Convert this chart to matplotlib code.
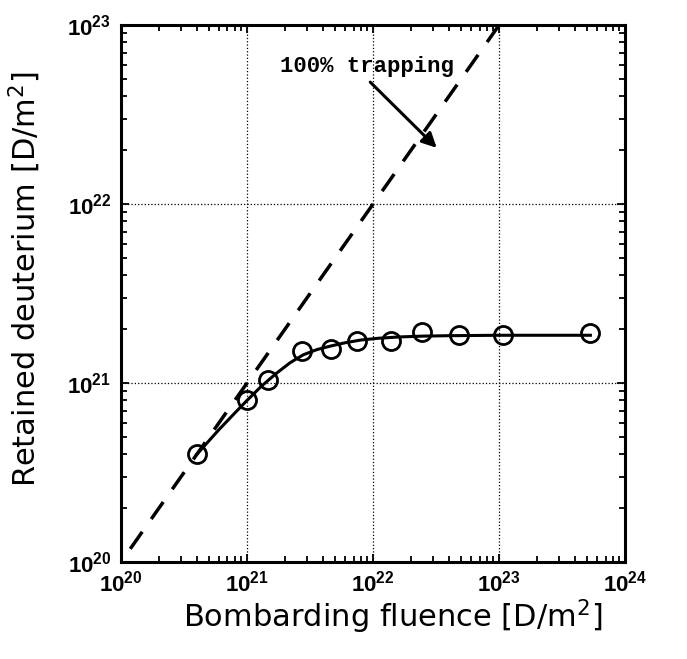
import matplotlib
matplotlib.use("Agg")
import matplotlib.pyplot as plt
import numpy as np

# measured data
fluence = [4.0e20, 1.0e21, 1.48e21, 2.75e21, 4.6e21, 7.5e21, 1.38e22, 2.46e22, 4.8e22, 1.08e23, 5.27e23]
retained = [4.0e20, 8.0e20, 1.04e21, 1.51e21, 1.55e21, 1.72e21, 1.72e21, 1.94e21, 1.85e21, 1.85e21, 1.9e21]

# fitted curve
fit_x = [4.0e20, 6.0e20, 8.0e20, 1.0e21, 1.3e21, 1.7e21, 2.2e21, 2.8e21, 3.6e21, 4.6e21, 6.0e21, 8.0e21, 1.1e22, 1.6e22, 2.5e22, 4.0e22, 1.0e23, 5.3e23]
fit_y = [4.0e20, 5.5e20, 6.8e20, 8.0e20, 9.6e20, 1.13e21, 1.3e21, 1.44e21, 1.54e21, 1.61e21, 1.68e21, 1.74e21, 1.78e21, 1.81e21, 1.83e21, 1.84e21, 1.85e21, 1.85e21]

# 100% trapping line (drawn from top end)
trap_x = [1e23, 1e20]
trap_y = [1e23, 1e20]

plt.rcParams['font.family'] = ['Liberation Sans', 'DejaVu Sans']

fig = plt.figure(figsize=(6.87, 6.59), dpi=100)
ax = fig.add_axes([0.176, 0.147, 0.734, 0.815])

ax.plot(trap_x, trap_y, color='black', lw=2.5, dashes=(6, 4.5))
ax.plot(fit_x, fit_y, color='black', lw=2.2)
ax.plot(fluence, retained, 'o', ms=13, mfc='none', mec='black', mew=2.0)

ax.set_xscale('log')
ax.set_yscale('log')
ax.set_xlim(1e20, 1e24)
ax.set_ylim(1e20, 1e23)

ax.grid(True, which='major', linestyle=':', color='black', lw=0.9)
ax.tick_params(which='both', direction='in', top=True, right=True, width=1.3)
ax.tick_params(which='major', length=6, labelsize=16)
ax.tick_params(axis='x', which='major', pad=6)
ax.tick_params(axis='y', which='major', pad=7)
ax.tick_params(which='minor', length=4)
for lab in ax.get_xticklabels() + ax.get_yticklabels():
    lab.set_fontweight('bold')
for s in ax.spines.values():
    s.set_linewidth(2.2)

ax.set_xlabel('Bombarding fluence [D/m$^2$]', fontsize=22, family='DejaVu Sans')
ax.set_ylabel('Retained deuterium [D/m$^2$]', fontsize=22, family='DejaVu Sans')
ax.xaxis.set_label_coords(0.538, -0.066)
ax.yaxis.set_label_coords(-0.155, 0.527)

ax.text(1.83e21, 5.9e22, '100% trapping', fontsize=16, fontweight='bold',
        family='Liberation Mono', ha='left', va='center')
ax.annotate('', xy=(3.2e22, 2.06e22), xytext=(9.5e21, 4.8e22),
            arrowprops=dict(arrowstyle='-|>', color='black', lw=2.2,
                            mutation_scale=22, shrinkA=0, shrinkB=0))

fig.savefig('out.png', dpi=100)
